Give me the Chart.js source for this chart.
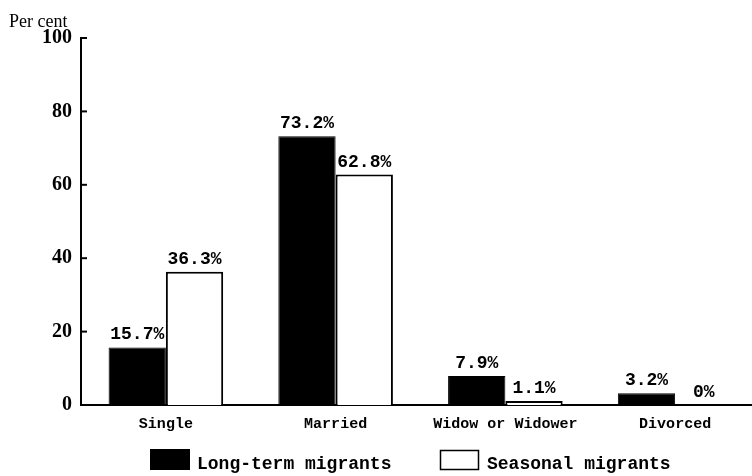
<!DOCTYPE html>
<html>
<head>
<meta charset="utf-8">
<script src="https://cdn.jsdelivr.net/npm/chart.js@4/dist/chart.umd.min.js"></script>
<style>
  html, body { margin: 0; padding: 0; background: #fff; overflow: hidden; }
  #wrap { width: 752px; height: 476px; overflow: hidden; }
</style>
</head>
<body>
<div id="wrap"><canvas id="chart" width="760" height="476"></canvas></div>
<script>
const categories = ['Single', 'Married', 'Widow or Widower', 'Divorced'];
const longTerm = [15.7, 73.2, 7.9, 3.2];
const seasonal = [36.3, 62.8, 1.1, 0];
const yTicks = [0, 20, 40, 60, 80, 100];
const seriesNames = ['Long-term migrants', 'Seasonal migrants'];

const monoBold = 'bold 18px "Liberation Mono", "DejaVu Sans Mono", monospace';

// valeurs au-dessus des barres, titre "Per cent", légende
const extras = {
  id: 'extras',
  afterDatasetsDraw(chart) {
    const ctx = chart.ctx;
    ctx.save();
    ctx.fillStyle = '#000';
    ctx.font = monoBold;
    ctx.textAlign = 'center';
    ctx.textBaseline = 'alphabetic';
    chart.data.datasets.forEach((ds, i) => {
      chart.getDatasetMeta(i).data.forEach((bar, j) => {
        ctx.fillText(ds.data[j] + '%', bar.x, bar.y - 8);
      });
    });

    // petits traits de graduation vers l'intérieur
    const y = chart.scales.y;
    ctx.strokeStyle = '#000';
    ctx.lineWidth = 2;
    yTicks.forEach(v => {
      const py = y.getPixelForValue(v);
      ctx.beginPath();
      ctx.moveTo(chart.chartArea.left, py);
      ctx.lineTo(chart.chartArea.left + 6, py);
      ctx.stroke();
    });

    ctx.textAlign = 'left';
    ctx.font = '18px "Liberation Serif", "Times New Roman", serif';
    ctx.fillText('Per cent', 9, 27);

    // légende
    ctx.font = 'bold 18px "Liberation Mono", "DejaVu Sans Mono", monospace';
    ctx.fillStyle = '#000';
    ctx.fillRect(150, 449, 40, 21);
    ctx.fillText(seriesNames[0], 197, 469);
    ctx.lineWidth = 1.5;
    ctx.strokeRect(440.5, 450.5, 38, 19);
    ctx.fillText(seriesNames[1], 487, 469);
    ctx.restore();
  }
};

new Chart(document.getElementById('chart'), {
  type: 'bar',
  data: {
    labels: categories,
    datasets: [
      {
        label: seriesNames[0],
        data: longTerm,
        backgroundColor: '#000',
        borderColor: '#000',
        borderWidth: 1
      },
      {
        label: seriesNames[1],
        data: seasonal,
        backgroundColor: '#fff',
        borderColor: '#000',
        borderWidth: 2
      }
    ]
  },
  options: {
    responsive: false,
    animation: false,
    layout: { padding: { top: 38, right: 0, bottom: 0, left: 0 } },
    datasets: {
      bar: { categoryPercentage: 0.675, barPercentage: 1.0 }
    },
    plugins: {
      legend: { display: false },
      tooltip: { enabled: false }
    },
    scales: {
      x: {
        afterFit(scale) { scale.height = 71; },
        grid: { display: false, drawTicks: false },
        border: { display: true, color: '#000', width: 2 },
        ticks: {
          padding: 10,
          color: '#000',
          font: { family: '"Liberation Mono", "DejaVu Sans Mono", monospace', size: 15, weight: 'bold' }
        }
      },
      y: {
        min: 0,
        max: 100,
        afterFit(scale) { scale.width = 81; },
        afterBuildTicks(scale) { scale.ticks = yTicks.map(v => ({ value: v })); },
        grid: { display: false, drawTicks: false },
        border: { display: true, color: '#000', width: 2 },
        ticks: {
          padding: 9,
          color: '#000',
          font: { family: '"Liberation Serif", "Times New Roman", serif', size: 20, weight: 'bold' }
        }
      }
    }
  },
  plugins: [extras]
});
</script>
</body>
</html>
